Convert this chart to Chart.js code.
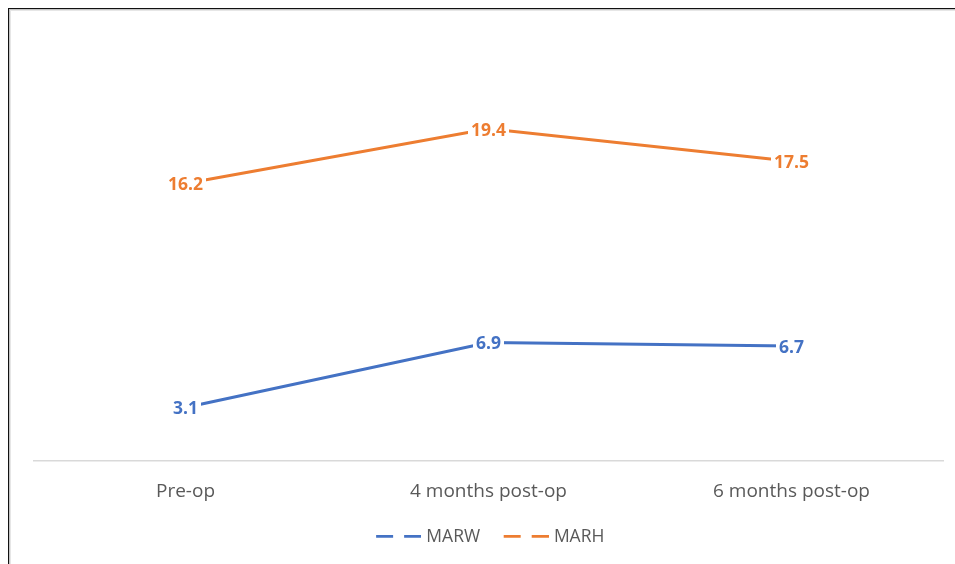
<!DOCTYPE html>
<html>
<head>
<meta charset="utf-8">
<script src="https://cdn.jsdelivr.net/npm/chart.js@4"></script>
<style>
  html, body { margin: 0; padding: 0; background: #fff; }
  #wrap { position: relative; width: 955px; height: 564px; overflow: hidden; }
  #frame {
    position: absolute; left: 8px; top: 8px; width: 960px; height: 570px;
    border-left: 1px solid #111; border-top: 1px solid #111;
    box-shadow: inset 1px 1px 0 #c4c4c4, inset 2px 2px 0 #e6e6e6;
  }
  #chart { position: absolute; left: 0; top: 0; }
</style>
</head>
<body>
<div id="wrap">
  <div id="frame"></div>
  <canvas id="chart" width="955" height="564"></canvas>
</div>
<script>
var categories = ['Pre-op', '4 months post-op', '6 months post-op'];
var seriesNames = ['MARW', 'MARH'];
var marwValues = [3.1, 6.9, 6.7];
var marhValues = [16.2, 19.4, 17.5];
var yMin = 0;
var yMax = 25;

var blue = '#4472C4';
var orange = '#ED7D31';

// legend sample: two short dashes like the office-style legend
function legendSample(color) {
  var c = document.createElement('canvas');
  c.width = 52;
  c.height = 4;
  var g = c.getContext('2d');
  g.fillStyle = color;
  g.fillRect(7, 0, 17, 3);
  g.fillRect(35, 0, 17, 3);
  return c;
}

// value labels centred on the points, on a white box that hides the line
var valueLabels = {
  id: 'valueLabels',
  afterDatasetsDraw: function (chart) {
    var ctx = chart.ctx;
    ctx.save();
    ctx.font = 'bold 17.5px "Open Sans"';
    ctx.textAlign = 'center';
    ctx.textBaseline = 'middle';
    chart.data.datasets.forEach(function (ds, i) {
      var meta = chart.getDatasetMeta(i);
      meta.data.forEach(function (pt, j) {
        var txt = String(ds.data[j]);
        var w = ctx.measureText(txt).width;
        ctx.fillStyle = '#fff';
        ctx.fillRect(pt.x - w / 2 - 3, pt.y - 10, w + 6, 22);
        ctx.fillStyle = ds.borderColor;
        ctx.fillText(txt, pt.x, pt.y + 2);
      });
    });
    ctx.restore();
  }
};

var ctx = document.getElementById('chart').getContext('2d');
var myChart = new Chart(ctx, {
  type: 'line',
  data: {
    labels: categories,
    datasets: [{
      label: seriesNames[0],
      data: marwValues,
      borderColor: blue,
      backgroundColor: blue,
      borderWidth: 3,
      pointRadius: 0,
      pointStyle: legendSample(blue),
      tension: 0
    }, {
      label: seriesNames[1],
      data: marhValues,
      borderColor: orange,
      backgroundColor: orange,
      borderWidth: 3,
      pointRadius: 0,
      pointStyle: legendSample(orange),
      tension: 0
    }]
  },
  options: {
    responsive: false,
    animation: false,
    layout: {
      padding: { left: 34, right: 12, top: 33, bottom: 8.5 }
    },
    scales: {
      x: {
        offset: true,
        grid: { display: false, drawTicks: false },
        border: { display: true, color: '#d9d9d9', width: 1.5 },
        ticks: {
          color: '#595959',
          padding: 20,
          font: { family: '"Open Sans"', size: 19 }
        },
        afterFit: function (scale) { scale.height = 47.5; }
      },
      y: {
        display: false,
        min: yMin,
        max: yMax
      }
    },
    plugins: {
      legend: {
        position: 'bottom',
        labels: {
          usePointStyle: true,
          pointStyleWidth: 45,
          padding: 20,
          color: '#595959',
          font: { family: '"Open Sans"', size: 17.5 }
        }
      },
      tooltip: { enabled: false }
    }
  },
  plugins: [valueLabels]
});
</script>
</body>
</html>
